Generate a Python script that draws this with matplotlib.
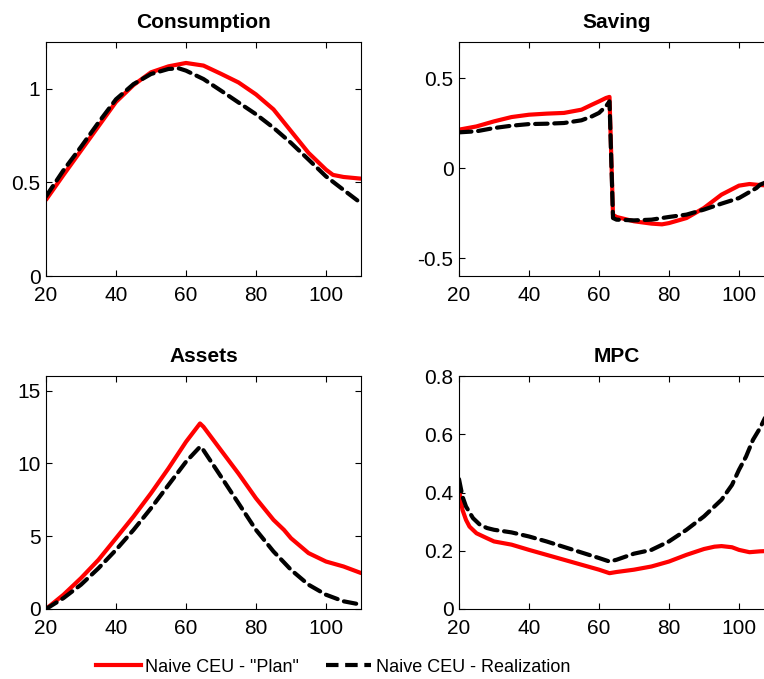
import matplotlib
matplotlib.use("Agg")
import matplotlib.pyplot as plt
from matplotlib.lines import Line2D

plt.rcParams['font.family'] = ['Liberation Sans', 'DejaVu Sans']

# ---------------- data ----------------
cons_age = [20, 25, 30, 35, 40, 45, 50, 55, 60, 65, 70, 75, 80, 85, 90, 95, 100, 102, 105, 110]
cons_plan = [0.407, 0.54, 0.67, 0.80, 0.93, 1.02, 1.088, 1.12, 1.138, 1.124, 1.08, 1.034,
             0.97, 0.89, 0.774, 0.658, 0.568, 0.54, 0.529, 0.52]
cons_real_age = [20, 25, 30, 35, 40, 45, 50, 55, 58, 60, 65, 70, 75, 80, 85, 90, 95, 100, 105, 110]
cons_real = [0.425, 0.565, 0.69, 0.82, 0.944, 1.025, 1.079, 1.106, 1.109, 1.097, 1.052,
             0.99, 0.927, 0.864, 0.792, 0.711, 0.622, 0.532, 0.46, 0.389]

sav_plan_age = [20, 25, 30, 35, 40, 45, 50, 55, 58, 60, 62, 63, 64, 65, 70, 75, 78, 80,
                85, 90, 95, 100, 103, 105, 110]
sav_plan = [0.213, 0.231, 0.259, 0.283, 0.296, 0.302, 0.306, 0.324, 0.352, 0.37, 0.389,
            0.395, -0.26, -0.272, -0.296, -0.309, -0.313, -0.306, -0.278, -0.222, -0.148,
            -0.098, -0.089, -0.093, -0.1]
sav_real_age = [20, 25, 30, 35, 40, 45, 50, 55, 58, 60, 62, 63, 64, 65, 70, 75, 80, 85,
                90, 95, 100, 105, 106, 110]
sav_real = [0.198, 0.204, 0.222, 0.235, 0.244, 0.246, 0.25, 0.265, 0.287, 0.306, 0.343,
            0.37, -0.278, -0.287, -0.291, -0.287, -0.272, -0.259, -0.231, -0.198, -0.167,
            -0.111, -0.093, -0.06]

ast_age = [20, 25, 30, 35, 40, 45, 50, 55, 60, 64, 65, 70, 75, 80, 85, 88, 90, 95, 100, 105, 110]
ast_plan = [0.0, 0.98, 2.12, 3.38, 4.86, 6.35, 7.95, 9.66, 11.48, 12.74, 12.51, 10.9, 9.3,
            7.6, 6.12, 5.43, 4.86, 3.84, 3.26, 2.92, 2.47]
ast_real = [0.0, 0.75, 1.67, 2.8, 4.06, 5.43, 6.92, 8.52, 10.11, 11.14, 10.9, 9.09, 7.26,
            5.43, 3.95, 3.2, 2.69, 1.67, 0.98, 0.53, 0.3]

mpc_plan_age = [20, 21, 22, 23, 25, 28, 30, 35, 40, 45, 50, 55, 60, 63, 65, 70, 75, 80, 85,
                90, 93, 95, 98, 100, 103, 106, 110]
mpc_plan = [0.409, 0.34, 0.306, 0.283, 0.26, 0.243, 0.232, 0.221, 0.203, 0.186, 0.169,
            0.152, 0.135, 0.123, 0.127, 0.135, 0.146, 0.163, 0.186, 0.206, 0.214, 0.216,
            0.212, 0.203, 0.195, 0.198, 0.2]
mpc_real_age = [20, 21, 22, 24, 26, 28, 30, 35, 40, 45, 50, 55, 60, 63, 65, 70, 75, 80, 85,
                90, 95, 98, 100, 102, 104, 106, 110]
mpc_real = [0.446, 0.386, 0.352, 0.312, 0.289, 0.278, 0.272, 0.263, 0.249, 0.232, 0.213,
            0.194, 0.175, 0.163, 0.169, 0.19, 0.203, 0.232, 0.272, 0.318, 0.375, 0.426,
            0.478, 0.523, 0.581, 0.621, 0.72]

titles = ["Consumption", "Saving", "Assets", "MPC"]
legend_labels = ['Naive CEU - "Plan"', 'Naive CEU - Realization']
x_ticks = [20, 40, 60, 80, 100]

# ---------------- figure ----------------
W, H = 764, 679
fig = plt.figure(figsize=(W / 100, H / 100), dpi=100)

def ax_at(left, top, right, bottom):
    return fig.add_axes([left / W, 1 - bottom / H, (right - left) / W, (bottom - top) / H])

ax1 = ax_at(46, 42, 361, 276)
ax2 = ax_at(459, 42, 774, 276)
ax3 = ax_at(46, 376, 361, 609)
ax4 = ax_at(459, 376, 774, 609)

red = '#ff0000'
lw = 3.0
dash = (3.0, 1.6)

panels = [
    (ax1, cons_age, cons_plan, cons_real_age, cons_real, (0, 1.25), [0, 0.5, 1], ['0', '0.5', '1']),
    (ax2, sav_plan_age, sav_plan, sav_real_age, sav_real, (-0.6, 0.7), [-0.5, 0, 0.5], ['-0.5', '0', '0.5']),
    (ax3, ast_age, ast_plan, ast_age, ast_real, (0, 16), [0, 5, 10, 15], ['0', '5', '10', '15']),
    (ax4, mpc_plan_age, mpc_plan, mpc_real_age, mpc_real, (0, 0.8), [0, 0.2, 0.4, 0.6, 0.8], ['0', '0.2', '0.4', '0.6', '0.8']),
]

for (ax, xa, ya, xb, yb, ylim, yt, ytl), title in zip(panels, titles):
    ax.plot(xa, ya, color=red, lw=lw, solid_joinstyle='round', solid_capstyle='round')
    ax.plot(xb, yb, color='black', lw=lw, linestyle=(0, dash), dash_capstyle='round')
    ax.set_xlim(20, 110)
    ax.set_ylim(*ylim)
    ax.set_xticks(x_ticks)
    ax.set_xticklabels([str(t) for t in x_ticks])
    ax.set_yticks(yt)
    ax.set_yticklabels(ytl)
    ax.tick_params(direction='in', length=4, width=0.8, top=True, right=True,
                   labelsize=15, pad=4)
    ax.tick_params(axis='x', pad=7)
    for s in ax.spines.values():
        s.set_linewidth(0.8)
    ax.set_title(title, fontsize=15, fontweight='bold', pad=10)

handles = [Line2D([], [], color=red, lw=lw),
           Line2D([], [], color='black', lw=lw, linestyle=(0, dash))]
fig.legend(handles, legend_labels, loc='center', bbox_to_anchor=(333 / W, 1 - 667 / H),
           ncol=2, frameon=False, fontsize=13, handlelength=2.5, handletextpad=0.25,
           columnspacing=1.5, borderpad=0, borderaxespad=0)

fig.savefig('out.png', dpi=100)
